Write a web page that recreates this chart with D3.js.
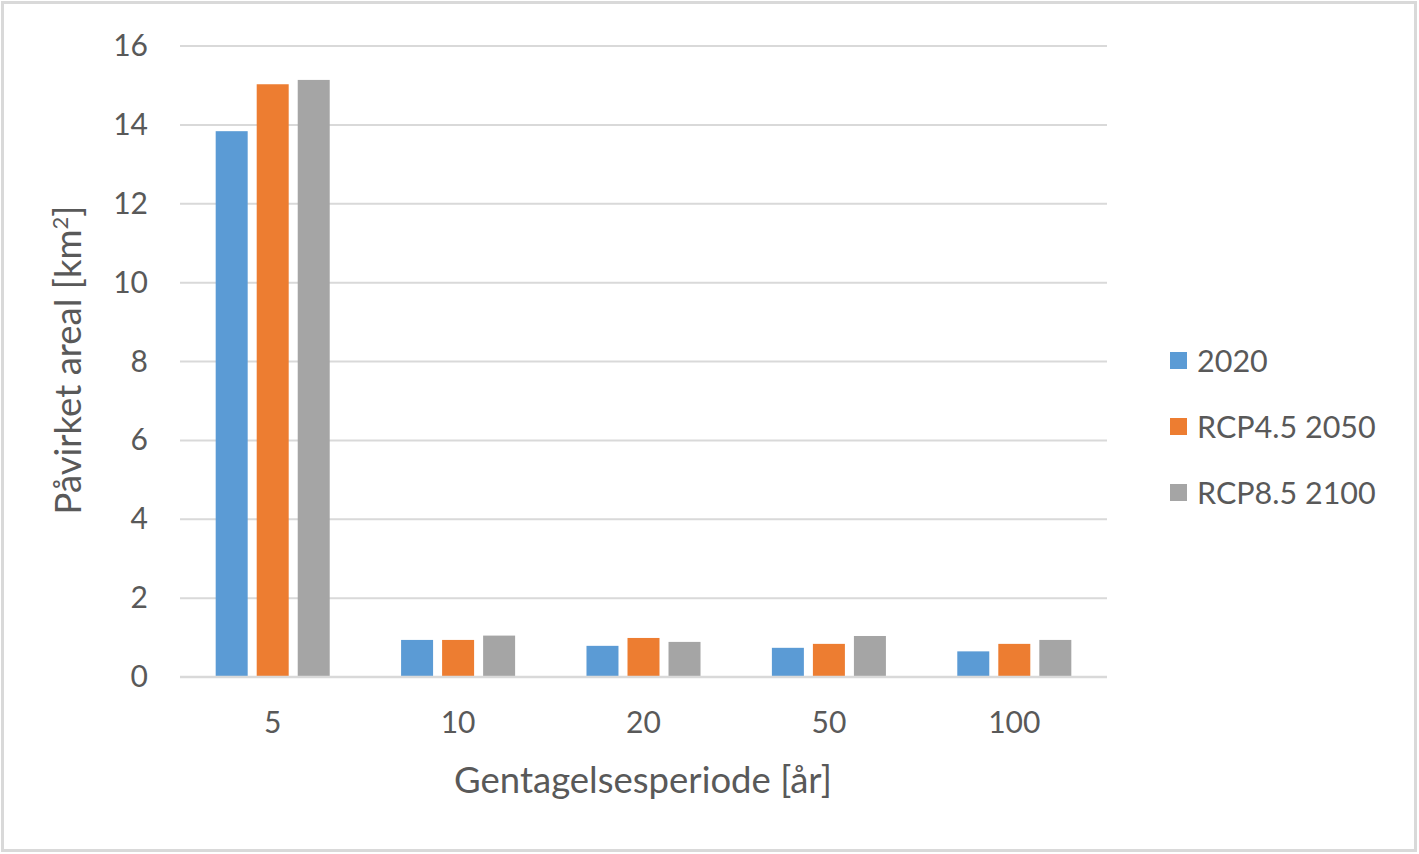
<!DOCTYPE html>
<html><head><meta charset="utf-8">
<script src="https://cdn.jsdelivr.net/npm/d3@7"></script>
<style>body{margin:0;background:#fff;}svg{display:block;font-family:Lato,"Open Sans",sans-serif;}</style>
</head><body>
<svg id="c" width="1419" height="854"></svg>
<script>
const categories = ["5","10","20","50","100"];
const seriesNames = ["2020","RCP4.5 2050","RCP8.5 2100"];
const s2020 = [13.84, 0.94, 0.79, 0.74, 0.65];
const s2050 = [15.03, 0.94, 0.99, 0.84, 0.84];
const s2100 = [15.14, 1.05, 0.89, 1.04, 0.94];
const yTicks = [0,2,4,6,8,10,12,14,16];
const colors = ["#5b9bd5","#ed7d31","#a5a5a5"];
const seriesVals = [s2020, s2050, s2100];

(function(){
const svg = d3.select("#c");
svg.append("rect").attr("x",2.5).attr("y",2.5).attr("width",1413).attr("height",848)
  .attr("fill","#fff").attr("stroke","#d9d9d9").attr("stroke-width",3);

const pL=180, pR=1107, pT=46, pB=677;
const x = d3.scaleBand().domain(categories).range([pL,pR]);
const y = d3.scaleLinear().domain([0,16]).range([pB,pT]);
const inner = d3.scaleBand().domain(seriesNames).range([0,x.bandwidth()]).paddingInner(0.22).paddingOuter(0.87);

const g = svg.append("g");
g.selectAll("line.grid").data(yTicks.filter(d=>d>0)).join("line")
  .attr("x1",pL).attr("x2",pR).attr("y1",d=>y(d)).attr("y2",d=>y(d))
  .attr("stroke","#d9d9d9").attr("stroke-width",2);

seriesNames.forEach((s,i)=>{
  g.selectAll("rect.s"+i).data(categories).join("rect").attr("class","s"+i)
    .attr("x",c=>x(c)+inner(s)).attr("width",inner.bandwidth())
    .attr("y",(c,j)=>y(seriesVals[i][j])).attr("height",(c,j)=>pB-y(seriesVals[i][j]))
    .attr("fill",colors[i]);
});
g.append("line").attr("x1",pL).attr("x2",pR).attr("y1",pB).attr("y2",pB)
  .attr("stroke","#d9d9d9").attr("stroke-width",2.5);

const yAxis = d3.axisLeft(y).tickValues(yTicks).tickSize(0).tickPadding(0);
const ya = svg.append("g").attr("transform",`translate(148,0)`).call(yAxis);
ya.select(".domain").remove();
ya.selectAll("text").attr("font-size",30).attr("fill","#595959").attr("font-family","Lato,'Open Sans',sans-serif");

const xAxis = d3.axisBottom(x).tickSize(0).tickPadding(0);
const xa = svg.append("g").attr("transform",`translate(0,722)`).call(xAxis);
xa.select(".domain").remove();
xa.selectAll("text").attr("font-size",30).attr("fill","#595959").attr("dy","0.35em").attr("font-family","Lato,'Open Sans',sans-serif");

svg.append("text").attr("x",643).attr("y",780).attr("dy","0.35em").attr("text-anchor","middle")
  .attr("font-size",36.5).attr("fill","#595959").text("Gentagelsesperiode [år]");

const yt = svg.append("text").attr("transform","translate(68,360) rotate(-90)").attr("dy","0.35em").attr("text-anchor","middle")
  .attr("font-size",36.5).attr("fill","#595959");
yt.append("tspan").text("Påvirket areal [km");
yt.append("tspan").attr("font-size",22).attr("dy",-13).text("2");
yt.append("tspan").attr("dy",13).text("]");

const lg = svg.append("g");
seriesNames.forEach((s,i)=>{
  const yy = 361 + i*66;
  lg.append("rect").attr("x",1170).attr("y",yy-9).attr("width",17).attr("height",17).attr("fill",colors[i]);
  lg.append("text").attr("x",1197).attr("y",yy).attr("dy","0.35em").attr("font-size",30.5).attr("fill","#595959").text(s);
});
})();
</script>
</body></html>
